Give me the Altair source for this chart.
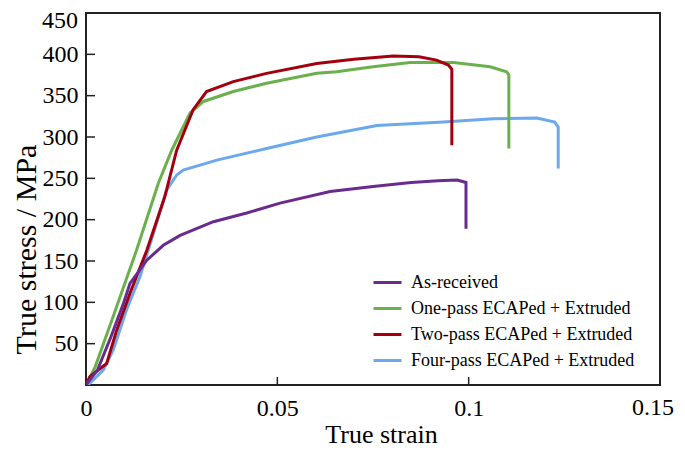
import altair as alt
import pandas as pd

# ---------------- data ----------------
series_names = [
    "As-received",
    "One-pass ECAPed + Extruded",
    "Two-pass ECAPed + Extruded",
    "Four-pass ECAPed + Extruded",
]
series_colors = ["#6a2b8f", "#6ab04c", "#a3000f", "#6ca8ec"]

as_received_strain = [0, 0.003, 0.0065, 0.0098, 0.0115, 0.0159, 0.0202, 0.0246, 0.0333, 0.042,
                      0.0507, 0.0638, 0.075, 0.085, 0.092, 0.097, 0.0993, 0.0993]
as_received_stress = [0, 18, 58, 99, 123, 151, 169, 181, 197.5, 208,
                      220, 234, 240, 245, 247, 248, 245, 189]

one_pass_strain = [0, 0.0024, 0.0071, 0.0132, 0.0189, 0.0224, 0.0272, 0.0307, 0.0385, 0.0472,
                   0.0603, 0.0655, 0.075, 0.0847, 0.096, 0.1056, 0.1099, 0.1105, 0.1105]
one_pass_stress = [0, 22, 83, 163, 244, 284, 329, 343, 355, 365,
                   377, 379, 385, 390, 390, 385, 379, 375, 286]

two_pass_strain = [0, 0.001, 0.0037, 0.0054, 0.008, 0.0115, 0.0159, 0.0206, 0.0237, 0.028,
                   0.0315, 0.0385, 0.0472, 0.0603, 0.07, 0.0803, 0.087, 0.0916, 0.0947, 0.0956, 0.0956]
two_pass_stress = [0, 10, 20, 26, 66, 111, 163, 228, 284, 333,
                   355, 367, 377, 389, 394, 398, 397, 393, 387, 382, 290]

four_pass_strain = [0, 0.001, 0.0045, 0.0071, 0.0106, 0.0141, 0.0176, 0.0211, 0.0237, 0.0254,
                    0.0342, 0.0472, 0.0603, 0.076, 0.0934, 0.1064, 0.1178, 0.1225, 0.1234, 0.1234]
four_pass_stress = [0, 2, 18, 42, 91, 131, 183, 236, 254, 260,
                    272, 286, 300, 314, 318, 322, 323, 318, 312, 262]

x_tick_values = [0, 0.05, 0.1, 0.15]
y_tick_values = [50, 100, 150, 200, 250, 300, 350, 400, 450]
x_edge_label = [0.15]
y_edge_label = [450]
x_inner_ticks = [0.05, 0.1]
y_inner_ticks = [50, 100, 150, 200, 250, 300, 350, 400]

# ---------------- build table ----------------
rows = []
for name, xs, ys in [
    (series_names[3], four_pass_strain, four_pass_stress),
    (series_names[1], one_pass_strain, one_pass_stress),
    (series_names[2], two_pass_strain, two_pass_stress),
    (series_names[0], as_received_strain, as_received_stress),
]:
    for i, (xv, yv) in enumerate(zip(xs, ys)):
        rows.append({"series": name, "strain": xv, "stress": yv, "idx": i})
df = pd.DataFrame(rows)

FONT = "Liberation Serif"
x_scale = alt.Scale(domain=[0, 0.15], nice=False, zero=False)
y_scale = alt.Scale(domain=[0, 450], nice=False, zero=False)

x_axis = alt.Axis(values=x_tick_values, format="~g", title="True strain",
                  labelExpr="datum.value > 0.12 ? '' : datum.label",
                  domain=False, ticks=False, grid=False,
                  labelFont=FONT, labelFontSize=24, labelColor="black",
                  labelPadding=11, labelFlush=False,
                  titleFont=FONT, titleFontSize=26, titleFontWeight="normal",
                  titleColor="black", titleX=295, titleY=57,
                  titleBaseline="alphabetic", titleAlign="center")
y_axis = alt.Axis(values=y_tick_values, title="True stress / MPa",
                  labelExpr="datum.value > 420 ? '' : datum.label",
                  domain=False, ticks=False, grid=False,
                  labelFont=FONT, labelFontSize=24, labelColor="black",
                  labelPadding=8, labelFlush=False,
                  titleFont=FONT, titleFontSize=30, titleFontWeight="normal",
                  titleColor="black", titleAngle=-90, titleX=-51, titleY=236,
                  titleBaseline="alphabetic", titleAlign="center")

lines = alt.Chart(df).mark_line(strokeWidth=3, clip=True).encode(
    x=alt.X("strain:Q", scale=x_scale, axis=x_axis),
    y=alt.Y("stress:Q", scale=y_scale, axis=y_axis),
    color=alt.Color("series:N",
                    scale=alt.Scale(domain=series_names, range=series_colors),
                    legend=alt.Legend(orient="none", legendX=286, legendY=254, title=None,
                                      symbolType="stroke", symbolSize=784,
                                      symbolStrokeWidth=3, labelFont=FONT,
                                      labelFontSize=18, labelColor="black", labelLimit=400,
                                      labelOffset=8, rowPadding=1, padding=0)),
    order=alt.Order("idx:Q"),
)

ytick_df = pd.DataFrame({"stress": y_inner_ticks})
yticks = alt.Chart(ytick_df).mark_rule(color="#222", strokeWidth=1.5).encode(
    y=alt.Y("stress:Q", scale=y_scale, axis=y_axis),
    x=alt.value(0), x2=alt.value(9),
)
xtick_df = pd.DataFrame({"strain": x_inner_ticks})
xticks = alt.Chart(xtick_df).mark_rule(color="#222", strokeWidth=1.5).encode(
    x=alt.X("strain:Q", scale=x_scale, axis=x_axis),
    y=alt.value(372), y2=alt.value(364),
)

# edge tick labels, nudged inward so they stay inside the page
xedge = alt.Chart(pd.DataFrame({"strain": x_edge_label})).mark_text(
    font=FONT, fontSize=24, color="black", align="center", baseline="top", dx=-7,
).encode(
    x=alt.X("strain:Q", scale=x_scale, axis=x_axis),
    y=alt.value(383),
    text=alt.Text("strain:Q", format="~g"),
)
yedge = alt.Chart(pd.DataFrame({"stress": y_edge_label})).mark_text(
    font=FONT, fontSize=24, color="black", align="right", baseline="middle", dy=8,
).encode(
    y=alt.Y("stress:Q", scale=y_scale, axis=y_axis),
    x=alt.value(-8),
    text=alt.Text("stress:Q", format="d"),
)

chart = alt.layer(lines, yticks, xticks, xedge, yedge).properties(
    width=574, height=372,
    autosize=alt.AutoSizeParams(type="none"),
    padding={"left": 78, "top": 5, "right": 17, "bottom": 63},
).configure_view(stroke="#222", strokeWidth=2)

chart.save("out.html", embed_options={"renderer": "svg", "actions": False})
